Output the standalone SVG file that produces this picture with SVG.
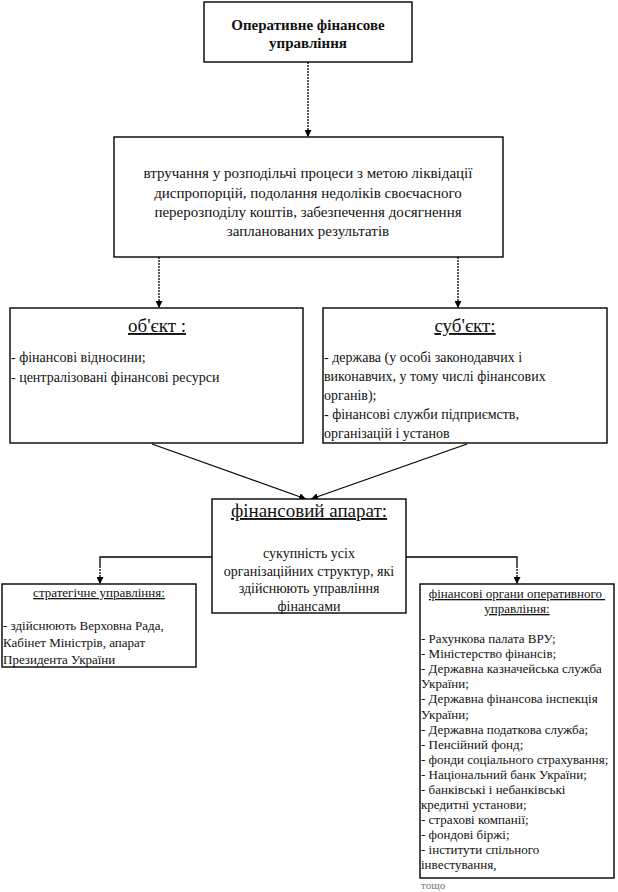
<svg xmlns="http://www.w3.org/2000/svg" width="618" height="892" viewBox="0 0 618 892">
<defs>
<marker id="arr" viewBox="0 0 10 10" refX="10" refY="5" markerWidth="7" markerHeight="7" markerUnits="userSpaceOnUse" orient="auto">
<path d="M0,0 L10,5 L0,10 z" fill="#000"/>
</marker>
<style>
.box{fill:#fff;stroke:#000;stroke-width:1.4}
.t{font-family:"Liberation Serif","Times New Roman",serif;fill:#111}
.c{text-anchor:middle}
.b{font-weight:bold;font-size:15px}
.m{font-size:15px}
.s{font-size:14px}
.x{font-size:13px}
.h{font-size:19px;text-decoration:underline}
.hs{font-size:13px;text-decoration:underline}
.v{fill:none;stroke:#000;stroke-width:1.3;stroke-dasharray:2 1}
.l{fill:none;stroke:#000;stroke-width:1.3}
</style>
</defs>
<g id="connectors">
<line class="v" x1="308" y1="62" x2="308" y2="137" marker-end="url(#arr)"/>
<line class="v" x1="159" y1="257" x2="159" y2="308" marker-end="url(#arr)"/>
<line class="v" x1="458" y1="257" x2="458" y2="308" marker-end="url(#arr)"/>
<line class="l" x1="152" y1="444" x2="306" y2="499" marker-end="url(#arr)"/>
<line class="l" x1="467" y1="444" x2="311" y2="499" marker-end="url(#arr)"/>
<polyline class="l" points="212,557 100,557 100,566"/>
<line class="v" x1="100" y1="566" x2="100" y2="584" marker-end="url(#arr)"/>
<polyline class="l" points="406,557 517,557 517,566"/>
<line class="v" x1="517" y1="566" x2="517" y2="584" marker-end="url(#arr)"/>
</g>
<g id="top">
<rect class="box" x="204" y="2" width="208" height="60"/>
<text class="t c b" x="308" y="30">Оперативне фінансове</text>
<text class="t c b" x="308" y="48">управління</text>
</g>
<g id="middle">
<rect class="box" x="114" y="137" width="389" height="120"/>
<text class="t c m" x="308" y="178">втручання у розподільчі процеси з метою ліквідації</text>
<text class="t c m" x="308" y="198">диспропорцій, подолання недоліків своєчасного</text>
<text class="t c m" x="308" y="217">перерозподілу коштів, забезпечення досягнення</text>
<text class="t c m" x="308" y="236">запланованих результатів</text>
</g>
<g id="object">
<rect class="box" x="10" y="308" width="293" height="135"/>
<text class="t c h" x="157" y="332">об'єкт :</text>
<text class="t s" x="11" y="362">- фінансові відносини;</text>
<text class="t s" x="11" y="382">- централізовані фінансові ресурси</text>
</g>
<g id="subject">
<rect class="box" x="323" y="308" width="284" height="135"/>
<text class="t c h" x="465" y="332">суб'єкт:</text>
<text class="t s" x="324" y="362">- держава (у особі законодавчих і</text>
<text class="t s" x="324" y="381">виконавчих, у тому числі фінансових</text>
<text class="t s" x="324" y="400">органів);</text>
<text class="t s" x="324" y="419">- фінансові служби підприємств,</text>
<text class="t s" x="324" y="438">організацій і установ</text>
</g>
<g id="apparatus">
<rect class="box" x="212" y="499" width="194" height="114"/>
<text class="t c h" x="309" y="517">фінансовий апарат:</text>
<text class="t c s" x="309" y="558">сукупність усіх</text>
<text class="t c s" x="309" y="576">організаційних структур, які</text>
<text class="t c s" x="309" y="593">здійснюють управління</text>
<text class="t c s" x="309" y="611">фінансами</text>
</g>
<g id="strategic">
<rect class="box" x="2" y="584" width="194" height="83"/>
<text class="t c hs" x="99" y="597">стратегічне управління:</text>
<text class="t x" x="3" y="630">- здійснюють Верховна Рада,</text>
<text class="t x" x="3" y="647">Кабінет Міністрів, апарат</text>
<text class="t x" x="3" y="664">Президента України</text>
</g>
<g id="operative">
<rect class="box" x="420" y="584" width="194" height="294"/>
<text class="t c hs" x="517" y="598" xml:space="preserve">фінансові органи оперативного </text>
<text class="t c hs" x="517" y="613">управління:</text>
<text class="t x" x="421" y="643">- Рахункова палата ВРУ;</text>
<text class="t x" x="421" y="658">- Міністерство фінансів;</text>
<text class="t x" x="421" y="673">- Державна казначейська служба</text>
<text class="t x" x="421" y="688">України;</text>
<text class="t x" x="421" y="703">- Державна фінансова інспекція</text>
<text class="t x" x="421" y="718.5">України;</text>
<text class="t x" x="421" y="733.5">- Державна податкова служба;</text>
<text class="t x" x="421" y="748.5">- Пенсійний фонд;</text>
<text class="t x" x="421" y="764">- фонди соціального страхування;</text>
<text class="t x" x="421" y="779">- Національний банк України;</text>
<text class="t x" x="421" y="794">- банківські і небанківські</text>
<text class="t x" x="421" y="809">кредитні установи;</text>
<text class="t x" x="421" y="824">- страхові компанії;</text>
<text class="t x" x="421" y="839">- фондові біржі;</text>
<text class="t x" x="421" y="854">- інститути спільного</text>
<text class="t x" x="421" y="869">інвестування,</text>
<text class="t" x="421" y="889" style="font-size:11px;fill:#777">тощо</text>
</g>
</svg>
